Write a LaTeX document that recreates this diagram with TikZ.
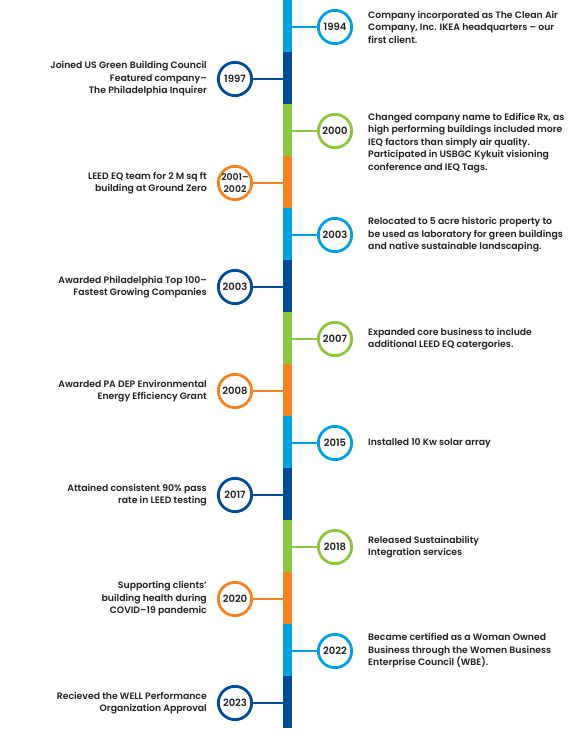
\documentclass[tikz,border=0pt]{standalone}
\usepackage{fontspec}
\setmainfont{Poppins SemiBold}
\definecolor{cLB}{HTML}{00A0E3}
\definecolor{cDB}{HTML}{004B98}
\definecolor{cGR}{HTML}{8CC63F}
\definecolor{cOR}{HTML}{F58220}
\definecolor{txt}{HTML}{231F20}
\tikzset{
  yearnode/.style={circle, draw=#1, line width=2.8pt, fill=white, minimum size=33.3pt, inner sep=0pt, text=txt, font=\fontsize{10}{11}\selectfont, align=center},
  conn/.style={draw=#1, line width=2.4pt},
  rtext/.style={anchor=west, align=left, inner sep=0pt, text=txt, font=\fontsize{9.3}{12.5}\selectfont},
  ltext/.style={anchor=east, align=right, inner sep=0pt, text=txt, font=\fontsize{9.3}{12.5}\selectfont},
  segbox/.style={fill=#1, draw=none}
}
\begin{document}
\begin{tikzpicture}[x=1pt,y=-1pt]
\useasboundingbox (0,0) rectangle (570,730);
% bar segments
\foreach \c [count=\i from 0] in {cLB,cDB,cGR,cOR,cLB,cDB,cGR,cOR,cLB,cDB,cGR,cOR,cLB,cDB}{
  \fill[segbox=\c] (283,{52*\i}) rectangle (292,{52*(\i+1)});
}
% 1994 (right)
\node[yearnode=cLB] (n1994) at (335,27) {1994};
\coordinate (b1994) at (292,27);
\draw[conn=cLB] (b1994) -- (n1994);
\node[rtext] (t1994) at (368,27) {Company incorporated as The Clean Air\\Company, Inc. IKEA headquarters – our\\first client.};
% 1997 (left)
\node[yearnode=cDB] (n1997) at (235,79) {1997};
\coordinate (b1997) at (283,79);
\draw[conn=cDB] (n1997) -- (b1997);
\node[ltext] (t1997) at (207,79) {Joined US Green Building Council\\Featured company–\\The Philadelphia Inquirer};
% 2000 (right)
\node[yearnode=cGR] (n2000) at (335,131) {2000};
\coordinate (b2000) at (292,131);
\draw[conn=cGR] (b2000) -- (n2000);
\node[rtext] (t2000) at (368,143) {Changed company name to Edifice Rx, as\\high performing buildings included more\\IEQ factors than simply air quality.\\Participated in USBGC Kykuit visioning\\conference and IEQ Tags.};
% 2001-2002 (left)
\node[yearnode=cOR, font=\fontsize{9.3}{11.5}\selectfont] (n2001) at (235,183) {2001–\\2002};
\coordinate (b2001) at (283,183);
\draw[conn=cOR] (n2001) -- (b2001);
\node[ltext] (t2001) at (207,183) {LEED EQ team for 2 M sq ft\\building at Ground Zero};
% 2003 (right)
\node[yearnode=cLB] (n2003r) at (335,235) {2003};
\coordinate (b2003r) at (292,235);
\draw[conn=cLB] (b2003r) -- (n2003r);
\node[rtext] (t2003r) at (368,235) {Relocated to 5 acre historic property to\\be used as laboratory for green buildings\\and native sustainable landscaping.};
% 2003 (left)
\node[yearnode=cDB] (n2003l) at (235,287) {2003};
\coordinate (b2003l) at (283,287);
\draw[conn=cDB] (n2003l) -- (b2003l);
\node[ltext] (t2003l) at (207,287) {Awarded Philadelphia Top 100–\\Fastest Growing Companies};
% 2007 (right)
\node[yearnode=cGR] (n2007) at (335,339) {2007};
\coordinate (b2007) at (292,339);
\draw[conn=cGR] (b2007) -- (n2007);
\node[rtext] (t2007) at (368,339) {Expanded core business to include\\additional LEED EQ catergories.};
% 2008 (left)
\node[yearnode=cOR] (n2008) at (235,391) {2008};
\coordinate (b2008) at (283,391);
\draw[conn=cOR] (n2008) -- (b2008);
\node[ltext] (t2008) at (207,391) {Awarded PA DEP Environmental\\Energy Efficiency Grant};
% 2015 (right)
\node[yearnode=cLB] (n2015) at (335,443) {2015};
\coordinate (b2015) at (292,443);
\draw[conn=cLB] (b2015) -- (n2015);
\node[rtext] (t2015) at (368,443) {Installed 10 Kw solar array};
% 2017 (left)
\node[yearnode=cDB] (n2017) at (235,495) {2017};
\coordinate (b2017) at (283,495);
\draw[conn=cDB] (n2017) -- (b2017);
\node[ltext] (t2017) at (207,495) {Attained consistent 90\% pass\\rate in LEED testing};
% 2018 (right)
\node[yearnode=cGR] (n2018) at (335,547) {2018};
\coordinate (b2018) at (292,547);
\draw[conn=cGR] (b2018) -- (n2018);
\node[rtext] (t2018) at (368,547) {Released Sustainability\\Integration services};
% 2020 (left)
\node[yearnode=cOR] (n2020) at (235,599) {2020};
\coordinate (b2020) at (283,599);
\draw[conn=cOR] (n2020) -- (b2020);
\node[ltext] (t2020) at (207,599) {Supporting clients’\\building health during\\COVID–19 pandemic};
% 2022 (right)
\node[yearnode=cLB] (n2022) at (335,651) {2022};
\coordinate (b2022) at (292,651);
\draw[conn=cLB] (b2022) -- (n2022);
\node[rtext] (t2022) at (368,651) {Became certified as a Woman Owned\\Business through the Women Business\\Enterprise Council (WBE).};
% 2023 (left)
\node[yearnode=cDB] (n2023) at (235,703) {2023};
\coordinate (b2023) at (283,703);
\draw[conn=cDB] (n2023) -- (b2023);
\node[ltext] (t2023) at (207,703) {Recieved the WELL Performance\\Organization Approval};
\end{tikzpicture}
\end{document}
